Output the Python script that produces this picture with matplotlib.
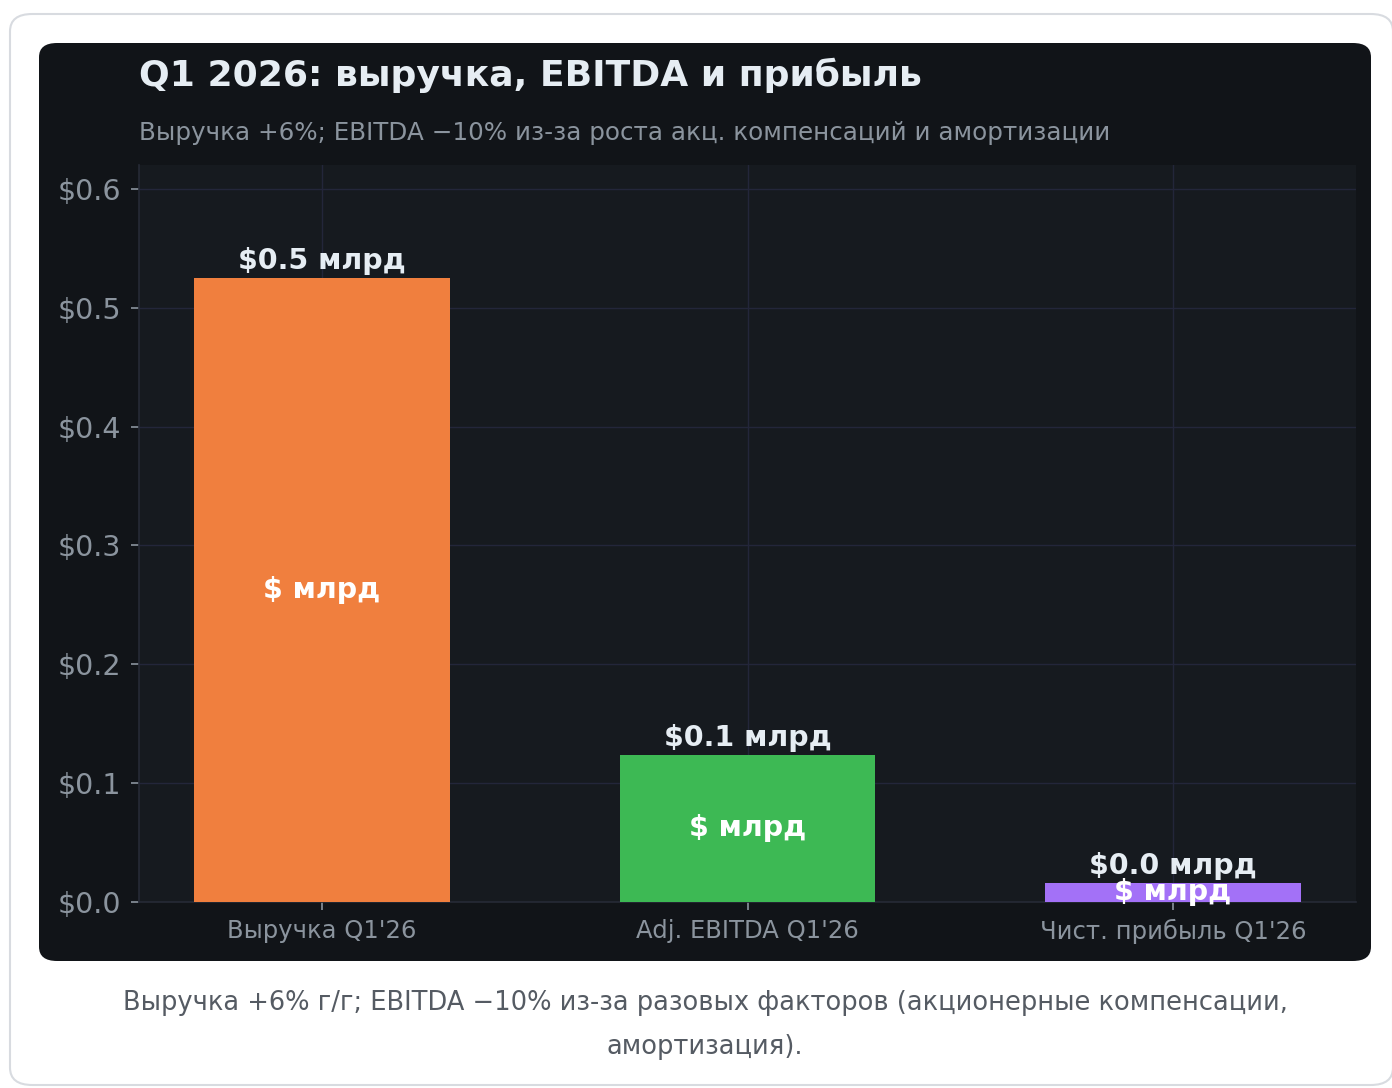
import matplotlib
matplotlib.use('Agg')
import matplotlib.pyplot as plt
from matplotlib.patches import FancyBboxPatch
from matplotlib.ticker import FuncFormatter

# data (млрд $)
categories = ["Выручка Q1'26", "Adj. EBITDA Q1'26", "Чист. прибыль Q1'26"]
values = [0.525, 0.124, 0.016]
top_labels = ["$0.5 млрд", "$0.1 млрд", "$0.0 млрд"]
inner_labels = ["$ млрд", "$ млрд", "$ млрд"]
bar_colors = ['#F07F3E', '#3DB954', '#A371F7']

TITLE = "Q1 2026: выручка, EBITDA и прибыль"
SUBTITLE = "Выручка +6%; EBITDA \u221210% из-за роста акц. компенсаций и амортизации"
CAPTION = ("Выручка +6% г/г; EBITDA \u221210% из-за разовых факторов (акционерные компенсации,\n"
           "амортизация).")

plt.rcParams['font.family'] = ['DejaVu Sans']

W, H = 1392, 1088
fig = plt.figure(figsize=(W / 100, H / 100), dpi=100, facecolor='white')

# outer card + dark panel
card = FancyBboxPatch((10 / W, 3 / H), 1383 / W, 1071 / H,
                      boxstyle="round,pad=0,rounding_size=0.016",
                      transform=fig.transFigure, facecolor='white',
                      edgecolor='#d8dbe0', linewidth=1.5, zorder=0)
fig.patches.append(card)
panel = FancyBboxPatch((39 / W, (H - 961) / H), (1371 - 39) / W, (961 - 43) / H,
                       boxstyle="round,pad=0,rounding_size=0.013",
                       transform=fig.transFigure, facecolor='#111418',
                       edgecolor='none', zorder=1)
fig.patches.append(panel)

ax = fig.add_axes([139 / W, (H - 902) / H, (1356 - 139) / W, (902 - 165) / H])
ax.set_facecolor('#161a1f')
ax.set_zorder(2)

x = list(range(len(categories)))
bars = ax.bar(x, values, width=0.6, color=bar_colors, zorder=3)

for xi, v, t, inner in zip(x, values, top_labels, inner_labels):
    ax.annotate(t, (xi, v), xytext=(0, 2), textcoords='offset points',
                ha='center', va='bottom', fontsize=20.5, fontweight='bold',
                color='#e6edf3', zorder=4)
    ax.text(xi, v / 2, inner, ha='center', va='center', fontsize=20.5,
            fontweight='bold', color='white', zorder=4)

ax.set_xlim(-0.43, 2.43)
ax.set_ylim(0, 0.62)
ax.set_yticks([0, 0.1, 0.2, 0.3, 0.4, 0.5, 0.6])
ax.yaxis.set_major_formatter(FuncFormatter(lambda v, p: f"${v:.1f}"))
ax.set_xticks(x)
ax.set_xticklabels(categories)

ax.tick_params(axis='y', colors='#8b949e', labelsize=20.5, length=6, width=1.2, pad=7)
ax.tick_params(axis='x', colors='#8b949e', labelsize=17.5, length=6, width=1.2, pad=6)
ax.grid(True, color='#23263a', linewidth=1.0, zorder=0)

for s in ['top', 'right']:
    ax.spines[s].set_visible(False)
for s in ['left', 'bottom']:
    ax.spines[s].set_color('#262a36')
    ax.spines[s].set_linewidth(1.2)

fig.text(139 / W, 1 - 75 / H, TITLE, fontsize=26, fontweight='bold',
         color='#e6edf3', ha='left', va='center', zorder=5)
fig.text(139 / W, 1 - 133 / H, SUBTITLE, fontsize=17.7, color='#8b949e',
         ha='left', va='center', zorder=5)
fig.text(705 / W, 1 - 1025 / H, CAPTION, fontsize=18.5, color='#555b63',
         ha='center', va='center', linespacing=1.95, zorder=5)

fig.savefig('out.png', dpi=100, facecolor='white')
